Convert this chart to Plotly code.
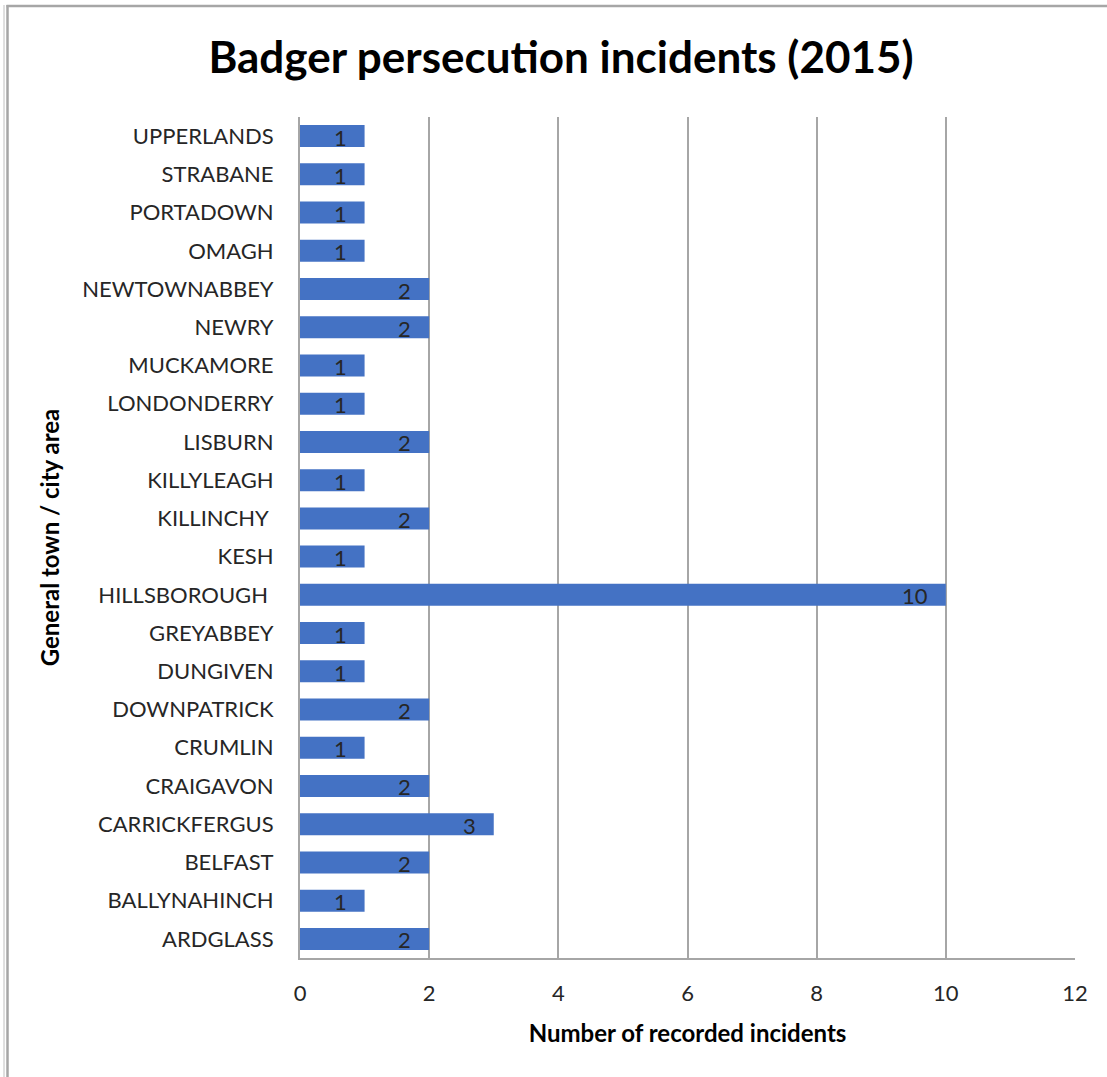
import plotly.graph_objects as go

# Towns listed bottom-to-top as they appear on the category axis
towns = [
    "ARDGLASS", "BALLYNAHINCH", "BELFAST", "CARRICKFERGUS", "CRAIGAVON",
    "CRUMLIN", "DOWNPATRICK", "DUNGIVEN", "GREYABBEY", "HILLSBOROUGH\u00a0",
    "KESH", "KILLINCHY\u00a0", "KILLYLEAGH", "LISBURN", "LONDONDERRY",
    "MUCKAMORE", "NEWRY", "NEWTOWNABBEY", "OMAGH", "PORTADOWN",
    "STRABANE", "UPPERLANDS",
]
incidents = [2, 1, 2, 3, 2, 1, 2, 1, 1, 10, 1, 2, 1, 2, 1, 1, 2, 2, 1, 1, 1, 1]

x_ticks = [0, 2, 4, 6, 8, 10, 12]

FONT = "Lato"
TEXT = "#262626"
GRID = "#a6a6a6"

fig = go.Figure(
    go.Bar(
        x=incidents,
        y=towns,
        orientation="h",
        marker=dict(color="#4472C4", line=dict(width=0)),
        hoverinfo="x+y",
    )
)

# value labels sitting just inside the end of each bar
for town, n in zip(towns, incidents):
    fig.add_annotation(
        x=n, y=town, text=str(n), showarrow=False,
        xanchor="right", yanchor="middle", xshift=-16, yshift=-1,
        font=dict(family=FONT, size=22, color=TEXT),
    )

W, H = 1107, 1077
L, R, T, B = 300, 32, 117, 119
pw, ph = W - L - R, H - T - B


def px_x(x):
    return (x - L) / pw


def px_y(y):
    return (H - B - y) / ph


# thin frame along the top and left edges of the page
fig.add_shape(type="line", xref="paper", yref="paper",
              x0=px_x(4), x1=px_x(4), y0=px_y(5), y1=px_y(H),
              line=dict(color="#c0c0c0", width=1))
fig.add_shape(type="line", xref="paper", yref="paper",
              x0=px_x(7.5), x1=px_x(7.5), y0=px_y(5), y1=px_y(H),
              line=dict(color="#a6a6a6", width=2.5))
fig.add_shape(type="line", xref="paper", yref="paper",
              x0=px_x(6.5), x1=px_x(W), y0=px_y(6), y1=px_y(6),
              line=dict(color="#a6a6a6", width=2.5))

fig.update_layout(
    width=W, height=H,
    margin=dict(l=L, r=R, t=T, b=B),
    paper_bgcolor="white", plot_bgcolor="white",
    bargap=0.425,
    showlegend=False,
    font=dict(family=FONT, color=TEXT),
    title=dict(
        text="<b>Badger persecution incidents (2015)</b>",
        x=561 / W, xanchor="center", y=1 - 58 / H, yanchor="middle",
        font=dict(family=FONT, size=44, color="black"),
    ),
    xaxis=dict(
        range=[0, 12], tickvals=x_ticks,
        showgrid=True, gridcolor=GRID, gridwidth=2,
        showline=True, linecolor=GRID, linewidth=2,
        zeroline=False, ticks="", ticklabelstandoff=15,
        tickfont=dict(family=FONT, size=22, color=TEXT),
        title=dict(text="<b>Number of recorded incidents</b>",
                   font=dict(family=FONT, size=24, color="black"),
                   standoff=20),
    ),
    yaxis=dict(
        type="category",
        showgrid=False,
        showline=True, linecolor=GRID, linewidth=2,
        ticks="", ticklabelstandoff=20,
        tickfont=dict(family=FONT, size=22, color=TEXT),
        title=dict(text="<b>General town / city area</b>",
                   font=dict(family=FONT, size=24, color="black"),
                   standoff=16),
    ),
)

fig.write_html("out.html")
